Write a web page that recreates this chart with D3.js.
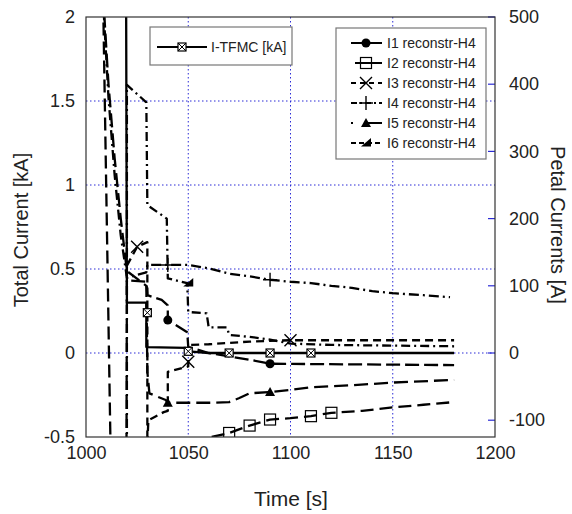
<!DOCTYPE html>
<html><head><meta charset="utf-8">
<script src="https://cdn.jsdelivr.net/npm/d3@7"></script>
<style>body{margin:0;background:#fff}svg{display:block}text{font-family:"Liberation Sans",Arial,Helvetica,sans-serif;fill:#222}</style>
</head><body><svg id="c" width="572" height="514"></svg>
<script>
// ---- data ----
const xTicks = [1000, 1050, 1100, 1150, 1200];
const yLeftTicks = [-0.5, 0, 0.5, 1, 1.5, 2];
const yRightTicks = [-100, 0, 100, 200, 300, 400, 500];

const tfmcT = [1019.6, 1020, 1029.5, 1029.5, 1049, 1050, 1060, 1180];
const tfmcV = [2.2, 0.30, 0.30, 0.035, 0.03, 0.01, 0.0, 0.0];
const tfmcMarkT = [1030, 1050, 1070, 1090, 1110];
const tfmcMarkV = [0.24, 0.01, 0.0, 0.0, 0.0];

const i1T = [1019.8, 1020, 1029.5, 1030, 1037, 1040, 1040, 1049.5, 1050, 1060, 1070, 1080, 1090, 1180];
const i1V = [-140, 108, 106, 86, 79, 71, 49, 31, 9, 0, -5, -10, -16, -18];
const i1MarkT = [1040, 1090];
const i1MarkV = [49, -16];

const i2T = [1008.4, 1012, 1058, 1060, 1070, 1080, 1090, 1100, 1110, 1120, 1135, 1150, 1165, 1180];
const i2V = [520, -140, -140, -126, -119, -108, -99, -97, -94, -89, -86, -81, -77, -73];
const i2MarkT = [1070, 1080, 1090, 1110, 1120];
const i2MarkV = [-119, -108, -99, -94, -89];

const i3T = [1020, 1025, 1030, 1030, 1030.5, 1038, 1040, 1040, 1050, 1050, 1060, 1070, 1080, 1090, 1100, 1180];
const i3V = [130, 158, 165, -135, -100, -88, -86, -28, -20, 12, 13, 15, 17, 18, 19, 19];
const i3MarkT = [1025, 1050, 1100];
const i3MarkV = [158, -13, 19];

const i4T = [1008.6, 1011, 1014, 1017, 1020, 1029.5, 1030, 1050, 1060, 1070, 1080, 1090, 1100, 1110, 1120, 1130, 1140, 1150, 1165, 1178];
const i4V = [510, 380, 265, 175, 112, 120, 131, 131, 126, 118, 114, 109, 106, 104, 100, 97, 92, 89, 86, 83];
const i4MarkT = [1040, 1090];
const i4MarkV = [131, 109];

const i5T = [1008.9, 1011, 1014, 1017, 1020, 1029.5, 1030, 1031, 1039, 1040, 1062, 1070, 1075, 1080, 1090, 1100, 1110, 1130, 1150, 1180];
const i5V = [505, 400, 290, 200, 122, 100, -28, -60, -70, -74, -74, -73, -67, -60, -58, -55, -51, -48, -44, -40];
const i5MarkT = [1040, 1090];
const i5MarkV = [-74, -58];

const i6T = [1020, 1020, 1029.5, 1030, 1039.5, 1040, 1049.5, 1050, 1059, 1060, 1069, 1070, 1080, 1090, 1100, 1120, 1150, 1180];
const i6V = [-140, 399, 373, 220, 200, 111, 104, 61, 59, 38, 38, 27, 24, 20, 14, 12, 11, 10];
const i6MarkT = [1050];
const i6MarkV = [104];

const legendLabels = ["I1 reconstr-H4", "I2 reconstr-H4", "I3 reconstr-H4", "I4 reconstr-H4", "I5 reconstr-H4", "I6 reconstr-H4"];

// ---- drawing ----
const svg = d3.select("#c");
const x = d3.scaleLinear().domain([1000, 1200]).range([86, 495]);
const yL = d3.scaleLinear().domain([-0.5, 2]).range([437, 17]);
const yR = d3.scaleLinear().domain([-125, 500]).range([437, 17]);
const blue = "#2b2bd6";

svg.append("clipPath").attr("id", "clip").append("rect")
  .attr("x", x(1000)).attr("y", yL(2)).attr("width", x(1200) - x(1000)).attr("height", yL(-0.5) - yL(2));

// grid
const grid = svg.append("g");
[1050, 1100, 1150].forEach(v => grid.append("line").attr("x1", x(v)).attr("x2", x(v)).attr("y1", yL(2)).attr("y2", yL(-0.5))
  .attr("stroke", blue).attr("stroke-width", 1).attr("stroke-dasharray", "1.5,2.5"));
[0, 0.5, 1, 1.5].forEach(v => grid.append("line").attr("y1", yL(v)).attr("y2", yL(v)).attr("x1", x(1000)).attr("x2", x(1200))
  .attr("stroke", blue).attr("stroke-width", 1).attr("stroke-dasharray", "1.5,2.5"));
// right inner ticks
yRightTicks.forEach(v => grid.append("line").attr("y1", yR(v)).attr("y2", yR(v)).attr("x1", x(1200) - 7).attr("x2", x(1200))
  .attr("stroke", blue).attr("stroke-width", 1.2));

// axes labels
const axL = d3.axisLeft(yL).tickValues(yLeftTicks).tickSize(0).tickPadding(11).tickFormat(d => String(d));
const gL = svg.append("g").attr("transform", `translate(${x(1000)},0)`).call(axL);
gL.select(".domain").remove();
gL.selectAll("text").style("font-size", "18px").attr("fill", "#222");

const axR = d3.axisRight(yR).tickValues(yRightTicks).tickSize(0).tickPadding(14).tickFormat(d => String(d));
const gR = svg.append("g").attr("transform", `translate(${x(1200)},0)`).call(axR);
gR.select(".domain").remove();
gR.selectAll("text").style("font-size", "18px").attr("fill", "#222");

const axB = d3.axisBottom(x).tickValues(xTicks).tickSize(0).tickPadding(9).tickFormat(d => String(d));
const gB = svg.append("g").attr("transform", `translate(0,${yL(-0.5)})`).call(axB);
gB.select(".domain").remove();
gB.selectAll("text").style("font-size", "18px").attr("fill", "#222");

svg.append("text").attr("transform", "translate(28,230) rotate(-90)").attr("text-anchor", "middle")
  .style("font-size", "20px").text("Total Current [kA]");
svg.append("text").attr("transform", "translate(551,225) rotate(90)").attr("text-anchor", "middle")
  .style("font-size", "20px").text("Petal Currents [A]");
svg.append("text").attr("x", 291).attr("y", 506).attr("text-anchor", "middle")
  .style("font-size", "21px").text("Time [s]");

// markers
function marker(g, type, cx, cy) {
  const k = "#000";
  if (type === "xsq") {
    const s = 4;
    g.append("rect").attr("x", cx - s).attr("y", cy - s).attr("width", 2 * s).attr("height", 2 * s).attr("fill", "#fff").attr("stroke", k).attr("stroke-width", 1.2);
    g.append("path").attr("d", `M${cx - s},${cy - s}L${cx + s},${cy + s}M${cx + s},${cy - s}L${cx - s},${cy + s}`).attr("stroke", k).attr("stroke-width", 1);
  } else if (type === "dot") {
    g.append("circle").attr("cx", cx).attr("cy", cy).attr("r", 4.5).attr("fill", k);
  } else if (type === "sq") {
    const s = 5.5;
    g.append("rect").attr("x", cx - s).attr("y", cy - s).attr("width", 2 * s).attr("height", 2 * s).attr("fill", "none").attr("stroke", k).attr("stroke-width", 1.2);
  } else if (type === "x") {
    const s = 6;
    g.append("path").attr("d", `M${cx - s},${cy - s}L${cx + s},${cy + s}M${cx + s},${cy - s}L${cx - s},${cy + s}`).attr("stroke", k).attr("stroke-width", 1.4);
  } else if (type === "plus") {
    const s = 7;
    g.append("path").attr("d", `M${cx - s},${cy}L${cx + s},${cy}M${cx},${cy - s}L${cx},${cy + s}`).attr("stroke", k).attr("stroke-width", 1.4);
  } else if (type === "tri") {
    const s = 5;
    g.append("path").attr("d", `M${cx},${cy - s}L${cx + s},${cy + s * 0.8}L${cx - s},${cy + s * 0.8}Z`).attr("fill", k);
  } else if (type === "htri") {
    const s = 5;
    g.append("path").attr("d", `M${cx + s},${cy - s}L${cx + s},${cy + s * 0.7}L${cx - s},${cy + s * 0.7}Z`).attr("fill", k);
  }
}

const plot = svg.append("g").attr("clip-path", "url(#clip)");
const series = [
  { T: i6T, V: i6V, y: yR, dash: "9,4,2,4", mT: i6MarkT, mV: i6MarkV, m: "htri" },
  { T: i5T, V: i5V, y: yR, dash: "14,6", mT: i5MarkT, mV: i5MarkV, m: "tri" },
  { T: i4T, V: i4V, y: yR, dash: "10,4,2,4", mT: i4MarkT, mV: i4MarkV, m: "plus" },
  { T: i3T, V: i3V, y: yR, dash: "8,5", mT: i3MarkT, mV: i3MarkV, m: "x" },
  { T: i2T, V: i2V, y: yR, dash: "13,6", mT: i2MarkT, mV: i2MarkV, m: "sq" },
  { T: i1T, V: i1V, y: yR, dash: "14,5", mT: i1MarkT, mV: i1MarkV, m: "dot" },
  { T: tfmcT, V: tfmcV, y: yL, dash: null, mT: tfmcMarkT, mV: tfmcMarkV, m: "xsq" }
];
series.forEach(s => {
  const pts = s.T.map((t, i) => [t, s.V[i]]);
  const line = d3.line().x(d => x(d[0])).y(d => s.y(d[1]));
  const p = plot.append("path").attr("d", line(pts)).attr("fill", "none").attr("stroke", "#000")
    .attr("stroke-width", 2.3).attr("stroke-linejoin", "round");
  if (s.dash) p.attr("stroke-dasharray", s.dash);
});
series.forEach(s => {
  s.mT.forEach((t, i) => marker(plot, s.m, x(t), s.y(s.mV[i])));
});

// frame
svg.append("rect").attr("x", x(1000)).attr("y", yL(2)).attr("width", x(1200) - x(1000)).attr("height", yL(-0.5) - yL(2))
  .attr("fill", "none").attr("stroke", "#333").attr("stroke-width", 1.2);

// legend 1
const lg1 = svg.append("g");
lg1.append("rect").attr("x", 150).attr("y", 27).attr("width", 142).attr("height", 38).attr("fill", "#fff").attr("stroke", "#777").attr("stroke-width", 1.2);
lg1.append("line").attr("x1", 157).attr("x2", 207).attr("y1", 47).attr("y2", 47).attr("stroke", "#000").attr("stroke-width", 2.2);
marker(lg1, "xsq", 182, 47);
lg1.append("text").attr("x", 211).attr("y", 52).style("font-size", "14px").text("I-TFMC [kA]");

// legend 2
const lg2 = svg.append("g");
lg2.append("rect").attr("x", 336).attr("y", 28).attr("width", 150).attr("height", 131).attr("fill", "#fff").attr("stroke", "#777").attr("stroke-width", 1.2);
const legDash = [null, null, "5,4", "6,3,2,3", "2,14,30", "5,3"];
const legMark = ["dot", "sq", "x", "plus", "tri", "htri"];
legendLabels.forEach((lab, i) => {
  const yy = 43 + i * 20;
  const l = lg2.append("line").attr("x1", i === 1 ? 355 : 351).attr("x2", 382).attr("y1", yy).attr("y2", yy).attr("stroke", "#000").attr("stroke-width", 2);
  if (legDash[i]) l.attr("stroke-dasharray", legDash[i]);
  marker(lg2, legMark[i], 366, yy);
  lg2.append("text").attr("x", 387).attr("y", yy + 5).style("font-size", "14px").text(lab);
});
</script></body></html>
